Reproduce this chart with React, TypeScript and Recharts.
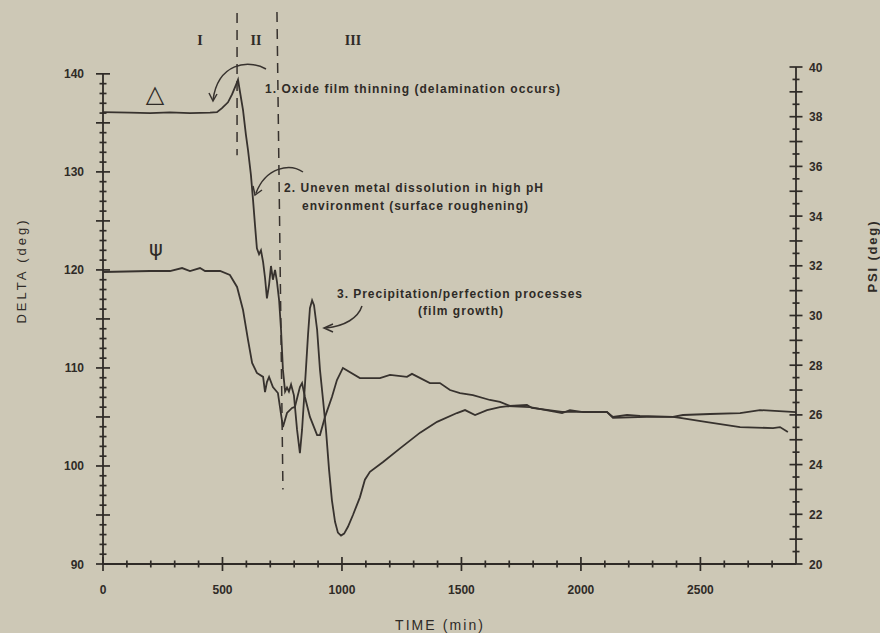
import React from 'react';
import { LineChart, Line, XAxis, YAxis, ReferenceLine } from 'recharts';

// ---- data (time in min) ----
const deltaTime = [0, 113, 197, 280, 364, 448, 477, 498, 523, 540, 557, 565, 573, 586, 598, 607, 619, 628, 636, 644, 653, 661, 670, 678, 686, 695, 703, 711, 720, 728, 737, 745, 753, 762, 770, 778, 787, 799, 812, 824, 833, 841, 849, 858, 866, 875, 883, 896, 908, 921, 933, 946, 958, 971, 983, 996, 1009, 1025, 1046, 1075, 1096, 1117, 1172, 1243, 1327, 1398, 1481, 1515, 1557, 1607, 1661, 1695, 1787, 1921, 1954, 2009, 2109, 2134, 2193, 2247, 2385, 2427, 2540, 2666, 2749, 2900];
const deltaValue = [136.1, 136.05, 136.0, 136.07, 136.0, 136.05, 136.1, 136.5, 137.1, 137.9, 138.9, 139.4, 138.2, 136.3, 133.8, 132.2, 129.7, 127.1, 124.6, 122.2, 121.6, 122.0, 120.8, 119.2, 117.1, 118.5, 120.4, 119.0, 120.0, 118.8, 116.9, 113.9, 109.8, 107.6, 108.0, 107.6, 108.3, 107.2, 103.7, 101.3, 103.7, 106.7, 109.8, 113.4, 116.1, 116.9, 116.4, 113.9, 109.8, 106.7, 103.7, 99.6, 96.5, 94.3, 93.2, 92.9, 93.1, 93.8, 95.0, 96.8, 98.6, 99.4, 100.4, 101.8, 103.4, 104.5, 105.4, 105.7, 105.2, 105.7, 106.0, 106.1, 106.0, 105.4, 105.7, 105.5, 105.5, 105.0, 105.2, 105.1, 105.0, 105.2, 105.3, 105.4, 105.7, 105.5];

const psiTime = [0, 197, 280, 331, 364, 406, 427, 490, 531, 561, 586, 607, 624, 644, 670, 678, 686, 695, 711, 732, 753, 770, 791, 803, 824, 833, 845, 866, 896, 908, 929, 958, 979, 1004, 1075, 1159, 1201, 1272, 1293, 1368, 1410, 1452, 1494, 1548, 1619, 1661, 1703, 1774, 1795, 1921, 2009, 2109, 2134, 2276, 2385, 2415, 2528, 2666, 2804, 2833, 2866];
const psiValue = [31.75, 31.79, 31.79, 31.91, 31.79, 31.91, 31.79, 31.79, 31.63, 31.15, 30.22, 29.01, 28.09, 27.69, 27.53, 26.92, 27.32, 27.53, 27.12, 26.88, 25.51, 26.08, 26.28, 26.32, 27.12, 27.28, 26.72, 25.92, 25.19, 25.19, 25.92, 26.72, 27.4, 27.89, 27.48, 27.48, 27.61, 27.53, 27.65, 27.28, 27.28, 27.0, 26.88, 26.8, 26.6, 26.52, 26.36, 26.4, 26.28, 26.12, 26.12, 26.12, 25.88, 25.92, 25.92, 25.88, 25.71, 25.51, 25.47, 25.51, 25.31];

// ---- ticks ----
const xMajorTicks = [0, 500, 1000, 1500, 2000, 2500];
const leftMajorTicks = [90, 100, 110, 120, 130, 140];
const rightMajorTicks = [20, 22, 24, 26, 28, 30, 32, 34, 36, 38, 40];
const xTicks = Array.from({ length: 29 }, (_, i) => i * 100);
const leftTicks = Array.from({ length: 51 }, (_, i) => 90 + i);
const rightTicks = Array.from({ length: 41 }, (_, i) => 20 + i * 0.5);

// ---- phase boundaries (dashed) ----
const phaseLine1 = [{ x: 561, y: 146.2 }, { x: 561, y: 131.7 }];
const phaseLine2 = [{ x: 728, y: 146.3 }, { x: 753, y: 97.6 }];

const deltaData = deltaTime.map((t, i) => ({ t, v: deltaValue[i] }));
const psiData = psiTime.map((t, i) => ({ t, v: psiValue[i] }));

const INK = '#2f2b27';
const LINE = '#37322e';
const BG = '#cdc8b6';
const FONT = '"Liberation Sans", Arial, sans-serif';

const LeftTick = (props: any) => {
  const { x, y, payload } = props;
  const v = payload.value;
  const major = Math.abs(v % 5) < 1e-6;
  const len = major ? 7 : 3.5;
  const labeled = leftMajorTicks.includes(v);
  return (
    <g>
      <line x1={x - len} x2={x + len} y1={y} y2={y} stroke={INK} strokeWidth={1.7} />
      {labeled && (
        <text x={x - 19} y={y + 4.5} textAnchor="end" fontFamily={FONT} fontWeight="bold" fontSize={12} fill={INK}>
          {v}
        </text>
      )}
    </g>
  );
};

const RightTick = (props: any) => {
  const { x, y, payload } = props;
  const v = payload.value;
  const major = Math.abs(v % 1) < 1e-6;
  const len = major ? 6.5 : 3.5;
  const labeled = rightMajorTicks.includes(v);
  return (
    <g>
      <line x1={x - len} x2={x + len} y1={y} y2={y} stroke={INK} strokeWidth={1.7} />
      {labeled && (
        <text x={x + 13} y={y + 4.5} textAnchor="start" fontFamily={FONT} fontWeight="bold" fontSize={12} fill={INK}>
          {v}
        </text>
      )}
    </g>
  );
};

const BottomTick = (props: any) => {
  const { x, y, payload } = props;
  const v = payload.value;
  const major = v % 500 === 0;
  const len = major ? 7 : 3.5;
  const labeled = xMajorTicks.includes(v);
  return (
    <g>
      <line x1={x} x2={x} y1={y - len} y2={y + len} stroke={INK} strokeWidth={1.7} />
      {labeled && (
        <text x={x} y={y + 30} textAnchor="middle" fontFamily={FONT} fontWeight="bold" fontSize={12} fill={INK}>
          {v}
        </text>
      )}
    </g>
  );
};

export default function App() {
  return (
    <div style={{ position: 'absolute', left: 0, top: 0, width: 880, height: 633, background: BG, overflow: 'hidden' }}>
      <LineChart width={880} height={633} margin={{ top: 67, right: 24, bottom: 29, left: 43 }}>
        <XAxis
          dataKey="t"
          type="number"
          domain={[0, 2900]}
          ticks={xTicks}
          interval={0}
          tickSize={0}
          tickMargin={0}
          tickLine={false}
          axisLine={{ stroke: INK, strokeWidth: 1.8 }}
          tick={(p: any) => <BottomTick {...p} />}
          height={40}
          allowDataOverflow
        />
        <YAxis
          yAxisId="left"
          orientation="left"
          type="number"
          domain={[90, 140.7]}
          ticks={leftTicks}
          interval={0}
          tickSize={0}
          tickMargin={0}
          tickLine={false}
          axisLine={false}
          tick={(p: any) => <LeftTick {...p} />}
          width={60}
          allowDataOverflow
        />
        <YAxis
          yAxisId="right"
          orientation="right"
          type="number"
          domain={[20, 40]}
          ticks={rightTicks}
          interval={0}
          tickSize={0}
          tickMargin={0}
          tickLine={false}
          axisLine={{ stroke: INK, strokeWidth: 1.8 }}
          tick={(p: any) => <RightTick {...p} />}
          width={60}
          allowDataOverflow
        />
        <ReferenceLine
          yAxisId="left"
          segment={[{ x: 0, y: 90 }, { x: 0, y: 140 }]}
          stroke={INK}
          strokeWidth={1.8}
          ifOverflow="visible"
        />
        <ReferenceLine
          yAxisId="left"
          segment={phaseLine1}
          stroke={LINE}
          strokeWidth={1.5}
          strokeDasharray="10 7"
          ifOverflow="visible"
        />
        <ReferenceLine
          yAxisId="left"
          segment={phaseLine2}
          stroke={LINE}
          strokeWidth={1.5}
          strokeDasharray="10 7"
          ifOverflow="visible"
        />
        <Line
          yAxisId="left"
          data={deltaData}
          dataKey="v"
          type="linear"
          stroke={LINE}
          strokeWidth={1.8}
          dot={false}
          isAnimationActive={false}
        />
        <Line
          yAxisId="right"
          data={psiData}
          dataKey="v"
          type="linear"
          stroke={LINE}
          strokeWidth={1.8}
          dot={false}
          isAnimationActive={false}
        />
      </LineChart>
      <svg width={880} height={633} style={{ position: 'absolute', left: 0, top: 0, pointerEvents: 'none' }}>
        <g fontFamily='"Liberation Serif", "Times New Roman", serif' fontWeight="bold" fontSize={14} fill={INK} textAnchor="middle">
          <text x={200} y={45}>I</text>
          <text x={256} y={45}>II</text>
          <text x={353} y={45}>III</text>
        </g>
        <text x={155} y={102} textAnchor="middle" fontFamily='"DejaVu Sans", sans-serif' fontSize={24} fill={INK}>△</text>
        <text x={156} y={256} textAnchor="middle" fontFamily='"DejaVu Sans", sans-serif' fontSize={21} fill={INK}>ψ</text>
        <g fontFamily={FONT} fontWeight="bold" fontSize={12} fill={INK}>
          <text x={265} y={93} textLength={295} lengthAdjust="spacing">1. Oxide film thinning (delamination occurs)</text>
          <text x={284} y={192} textLength={259} lengthAdjust="spacing">2. Uneven metal dissolution in high pH</text>
          <text x={302} y={210} textLength={226} lengthAdjust="spacing">environment (surface roughening)</text>
          <text x={337} y={298} textLength={245} lengthAdjust="spacing">3. Precipitation/perfection processes</text>
          <text x={418} y={315} textLength={85} lengthAdjust="spacing">(film growth)</text>
        </g>
        <g fill="none" stroke={LINE} strokeWidth={1.5}>
          <path d="M 266 69 C 248 59, 218 63, 213 100" />
          <path d="M 209 93 L 213 101 L 217 94" />
          <path d="M 303 172 C 290 163, 266 167, 256 193" />
          <path d="M 253 186 L 255 195 L 262 190" />
          <path d="M 362 306 C 358 318, 345 326, 326 328" />
          <path d="M 333 324 L 324 328 L 333 332" />
        </g>
        <text
          transform="translate(26,272) rotate(-90)"
          textAnchor="middle"
          fontFamily={FONT}
          fontSize={13}
          fill={INK}
          textLength={103}
          lengthAdjust="spacing"
        >
          DELTA (deg)
        </text>
        <text
          transform="translate(877,257) rotate(-90)"
          textAnchor="middle"
          fontFamily={FONT}
          fontWeight="bold"
          fontSize={13}
          fill={INK}
          textLength={71}
          lengthAdjust="spacing"
        >
          PSI (deg)
        </text>
        <text x={439} y={630} textAnchor="middle" fontFamily={FONT} fontSize={14} fill={INK} textLength={88} lengthAdjust="spacing">
          TIME (min)
        </text>
      </svg>
    </div>
  );
}
